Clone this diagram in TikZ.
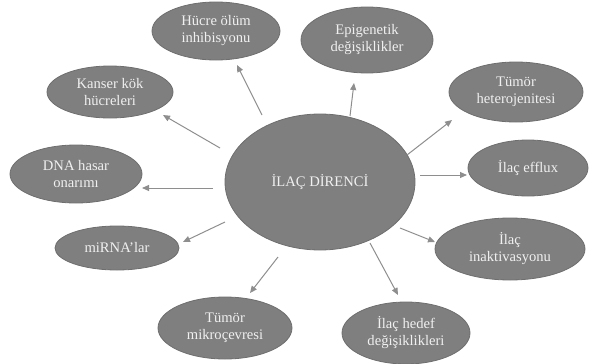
\documentclass[tikz,border=0pt]{standalone}
\usepackage{fontspec}
\setmainfont{Liberation Serif}
\usetikzlibrary{shapes.geometric,arrows.meta}
\definecolor{ellfill}{HTML}{7F7F7F}
\definecolor{ellline}{HTML}{6E6E6E}
\definecolor{arrcol}{HTML}{8E8E8E}
\definecolor{txtcol}{HTML}{F0F0F0}
\tikzset{
  bub/.style={ellipse, fill=ellfill, draw=ellline, line width=0.8pt, inner sep=0pt,
    text=txtcol, align=center, font=\fontsize{14.6}{17}\selectfont},
  arr/.style={draw=arrcol, line width=1pt, -{Triangle[length=7pt,width=6pt]}}
}
\begin{document}
\begin{tikzpicture}[x=1pt,y=-1pt]
\useasboundingbox (0,0) rectangle (589,364);
\node[bub, minimum width=190pt, minimum height=136pt] (c) at (320,182) {İLAÇ DİRENCİ};
\node[bub, minimum width=128pt, minimum height=58pt] (hu) at (216,31) {Hücre ölüm\\inhibisyonu};
\node[bub, minimum width=132pt, minimum height=66pt] (ep) at (367,40) {Epigenetik\\değişiklikler};
\node[bub, minimum width=126pt, minimum height=52pt] (ka) at (110,92) {Kanser kök\\hücreleri};
\node[bub, minimum width=132pt, minimum height=58pt] (dn) at (76,174) {DNA hasar\\onarımı};
\node[bub, minimum width=124pt, minimum height=44pt] (mi) at (117,248) {miRNA’lar};
\node[bub, minimum width=134pt, minimum height=60pt] (th) at (516,92) {Tümör\\heterojenitesi};
\node[bub, minimum width=120pt, minimum height=56pt] (ef) at (528,168) {İlaç efflux};
\node[bub, minimum width=150pt, minimum height=62pt] (in) at (510,249) {İlaç\\inaktivasyonu};
\node[bub, minimum width=134pt, minimum height=62pt] (tm) at (225,328) {Tümör\\mikroçevresi};
\node[bub, minimum width=128pt, minimum height=62pt] (hd) at (406,333) {İlaç hedef\\değişiklikleri};
% arrow end points
\coordinate (a1) at (262,115); \coordinate (b1) at (237,65);
\coordinate (a2) at (350,116); \coordinate (b2) at (354,83);
\coordinate (a3) at (220,148); \coordinate (b3) at (163,115);
\coordinate (a4) at (213,188); \coordinate (b4) at (142,188);
\coordinate (a5) at (225,222); \coordinate (b5) at (183,242);
\coordinate (a6) at (407,155); \coordinate (b6) at (452,120);
\coordinate (a7) at (420,175); \coordinate (b7) at (467,175);
\coordinate (a8) at (400,228); \coordinate (b8) at (435,242);
\coordinate (a9) at (278,257); \coordinate (b9) at (250,293);
\coordinate (a10) at (370,243); \coordinate (b10) at (398,295);
\foreach \i in {1,...,10} {\draw[arr] (a\i) -- (b\i);}
\end{tikzpicture}
\end{document}
